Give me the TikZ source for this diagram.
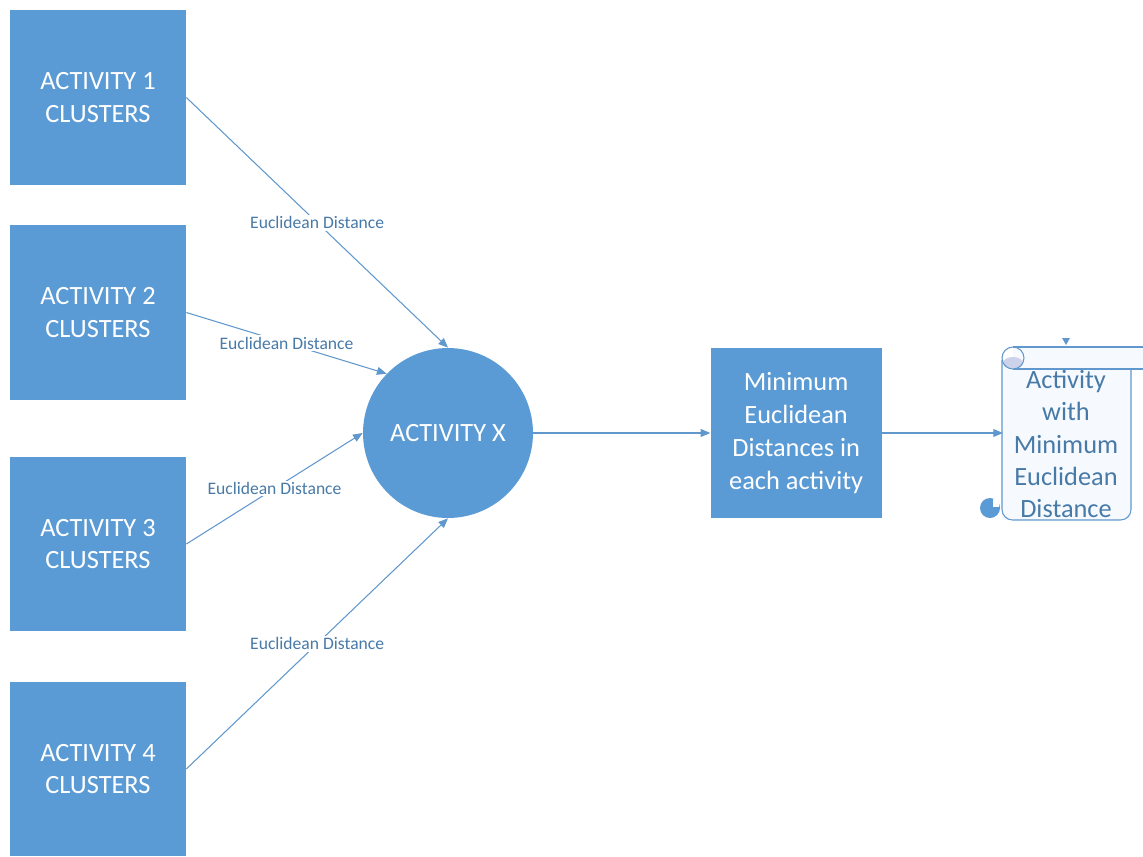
\documentclass[tikz,border=0pt]{standalone}
\usepackage{fontspec}
\setmainfont{Carlito}
\usetikzlibrary{positioning}
\usetikzlibrary{arrows.meta}
\definecolor{boxblue}{RGB}{91,155,213}
\definecolor{linkblue}{RGB}{96,152,205}
\definecolor{textblue}{RGB}{72,122,168}
\definecolor{scrollfill}{RGB}{246,249,253}
\definecolor{curlfill}{RGB}{205,210,235}
\tikzstyle{every flow} = []
\tikzstyle{flow} = [-{Triangle[length=5.5pt,width=4.5pt]}, draw=linkblue, line width=0.6pt, every flow]

\begin{document}
\begin{tikzpicture}[x=0.02cm, y=-0.02cm, node distance=3.5cm]
        \tikzstyle{cluster} = [rectangle, fill=boxblue, text=white, align=center, minimum width=3.52cm, minimum height=3.5cm, font=\fontsize{15}{18.4}\selectfont]
        \tikzstyle{dist} = [fill=white, text=textblue, inner sep=1pt, font=\fontsize{10}{12}\selectfont]

        \useasboundingbox (0,0) rectangle (1143,856);

        \node[cluster] (act1) at (98,97.5) {ACTIVITY 1\\CLUSTERS};
        \node[cluster] (act2) at (98,312.5) {ACTIVITY 2\\CLUSTERS};
        \node[cluster] (act3) at (98,544) {ACTIVITY 3\\CLUSTERS};
        \node[cluster] (act4) at (98,769) {ACTIVITY 4\\CLUSTERS};

        \node[circle, fill=boxblue, text=white, minimum size=3.4cm, font=\fontsize{15}{18}\selectfont] (actx) at (448,433) {ACTIVITY X};
        \node[cluster, minimum width=3.42cm, minimum height=3.42cm, font=\fontsize{15}{18.8}\selectfont, right=3.54cm of actx] (mindist) {Minimum\\Euclidean\\Distances in\\each activity};
        \node[inner sep=0pt, minimum width=2.58cm, minimum height=3.46cm, right=2.42cm of mindist] (result) {};

        % scroll
        \fill[scrollfill] (1002,358) -- (1002,520) -- (1131,520) -- (1131,369) -- (1013,369) -- cycle;
        \fill[scrollfill] (1013,347) rectangle (1150,369);
        \draw[linkblue, line width=0.6pt] (1013,347) -- (1150,347);
        \draw[linkblue, line width=0.6pt] (1013,369) -- (1150,369);
        \draw[linkblue, line width=0.6pt, rounded corners=6pt] (1002,360) -- (1002,520) -- (1131,520) -- (1131,369);
        \fill[curlfill] (1013,363) ellipse [x radius=10, y radius=6];
        \draw[linkblue, line width=0.6pt] (1013,358) circle [radius=11];
        \fill[boxblue] (990,508) circle [radius=10];
        \fill[white] (993,499) rectangle (999,507);
        \fill[linkblue] (1062,338) -- (1070,338) -- (1066,345) -- cycle;
        \node[text=textblue, align=center, font=\fontsize{15}{18.4}\selectfont] (resulttext) at (1066,444) {Activity\\with\\Minimum\\Euclidean\\Distance};

        \draw[flow] (act1.east) -- node[dist] {Euclidean Distance} (actx.north);
        \draw[flow] (act2.east) -- node[dist] {Euclidean Distance} (actx.136);
        \draw[flow] (act3.east) -- node[dist] {Euclidean Distance} (actx.west);
        \draw[flow] (act4.east) -- node[dist] {Euclidean Distance} (actx.south);
        \draw[flow] (actx) -- (mindist);
        \draw[flow] (mindist) -- (result);
    \end{tikzpicture}
\end{document}
